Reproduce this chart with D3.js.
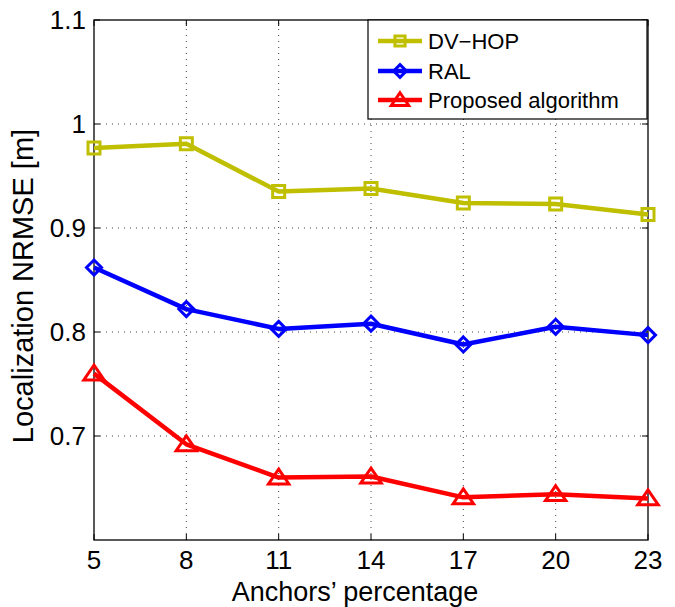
<!DOCTYPE html>
<html>
<head>
<meta charset="utf-8">
<script src="https://cdn.jsdelivr.net/npm/d3@7"></script>
<style>
  body { margin: 0; background: #fff; }
  svg { display: block; font-family: "Liberation Sans", Arial, Helvetica, sans-serif; }
</style>
</head>
<body>
<div id="chart"></div>
<script>
const anchors = [5, 8, 11, 14, 17, 20, 23];
const dvHop = [0.977, 0.981, 0.935, 0.938, 0.924, 0.923, 0.913];
const ral = [0.862, 0.822, 0.803, 0.808, 0.788, 0.805, 0.797];
const proposed = [0.760, 0.692, 0.660, 0.661, 0.641, 0.644, 0.640];

const xTicks = [5, 8, 11, 14, 17, 20, 23];
const yTicks = [0.7, 0.8, 0.9, 1, 1.1];

const seriesNames = ["DV\u2212HOP", "RAL", "Proposed algorithm"];

const width = 675, height = 607;
const margin = { left: 94, right: 27, top: 20, bottom: 67 };

const xScale = d3.scaleLinear().domain([5, 23]).range([margin.left, width - margin.right]);
const yScale = d3.scaleLinear().domain([0.6, 1.1]).range([height - margin.bottom, margin.top]);

const svg = d3.select("#chart").append("svg")
  .attr("width", width)
  .attr("height", height);

// marker shapes, unfilled like matlab
const square = s => `M${-s},${-s}H${s}V${s}H${-s}Z`;
const diamond = s => `M0,${-s}L${s},0L0,${s}L${-s},0Z`;
const triangle = s => `M0,${-s}L${s * 1.2},${s * 0.75}L${-s * 1.2},${s * 0.75}Z`;

const series = [
  { name: seriesNames[0], values: dvHop, color: "#bfbf00", shape: square, size: 6 },
  { name: seriesNames[1], values: ral, color: "#0000ff", shape: diamond, size: 7.5 },
  { name: seriesNames[2], values: proposed, color: "#ff0000", shape: triangle, size: 8.5 }
];

const x0 = xScale.range()[0], x1 = xScale.range()[1];
const y0 = yScale.range()[0], y1 = yScale.range()[1];

// dotted grid
const grid = svg.append("g")
  .attr("stroke", "#444")
  .attr("stroke-width", 1)
  .attr("stroke-dasharray", "1,5");

grid.selectAll(".gx").data(xTicks.slice(1, -1)).join("line")
  .attr("x1", d => xScale(d)).attr("x2", d => xScale(d))
  .attr("y1", y0).attr("y2", y1);

grid.selectAll(".gy").data(yTicks.slice(0, -1)).join("line")
  .attr("y1", d => yScale(d)).attr("y2", d => yScale(d))
  .attr("x1", x0).attr("x2", x1);

// ticks on all four sides, pointing in
const tickLen = 6;
const ticks = svg.append("g").attr("stroke", "#000").attr("stroke-width", 1);
xTicks.forEach(t => {
  ticks.append("line").attr("x1", xScale(t)).attr("x2", xScale(t)).attr("y1", y0).attr("y2", y0 - tickLen);
  ticks.append("line").attr("x1", xScale(t)).attr("x2", xScale(t)).attr("y1", y1).attr("y2", y1 + tickLen);
});
yTicks.forEach(t => {
  ticks.append("line").attr("y1", yScale(t)).attr("y2", yScale(t)).attr("x1", x0).attr("x2", x0 + tickLen);
  ticks.append("line").attr("y1", yScale(t)).attr("y2", yScale(t)).attr("x1", x1).attr("x2", x1 - tickLen);
});

// box
svg.append("rect")
  .attr("x", x0).attr("y", y1)
  .attr("width", x1 - x0).attr("height", y0 - y1)
  .attr("fill", "none")
  .attr("stroke", "#000")
  .attr("stroke-width", 1.3);

// tick labels
svg.append("g").selectAll("text").data(xTicks).join("text")
  .attr("x", d => xScale(d))
  .attr("y", 569)
  .attr("text-anchor", "middle")
  .attr("font-size", 26)
  .text(d => d);

svg.append("g").selectAll("text").data(yTicks).join("text")
  .attr("x", 86)
  .attr("y", d => yScale(d))
  .attr("dy", "0.36em")
  .attr("text-anchor", "end")
  .attr("font-size", 26)
  .text(d => d3.format("~g")(d));

// axis titles
svg.append("text")
  .attr("x", 355)
  .attr("y", 601)
  .attr("text-anchor", "middle")
  .attr("font-size", 27)
  .text("Anchors\u2019 percentage");

svg.append("text")
  .attr("transform", `translate(33,${(y0 + y1) / 2 + 6}) rotate(-90)`)
  .attr("text-anchor", "middle")
  .attr("font-size", 29)
  .text("Localization NRMSE [m]");

// lines and markers
const line = d3.line()
  .x((d, i) => xScale(anchors[i]))
  .y(d => yScale(d));

series.forEach(s => {
  const g = svg.append("g");
  g.append("path")
    .attr("d", line(s.values))
    .attr("fill", "none")
    .attr("stroke", s.color)
    .attr("stroke-width", 4.5)
    .attr("stroke-linejoin", "round");
  g.selectAll("path.mk").data(s.values).join("path")
    .attr("class", "mk")
    .attr("transform", (d, i) => `translate(${xScale(anchors[i])},${yScale(d)})`)
    .attr("d", s.shape(s.size))
    .attr("fill", "none")
    .attr("stroke", s.color)
    .attr("stroke-width", 3);
});

// legend
const legend = svg.append("g");
legend.append("rect")
  .attr("x", 368).attr("y", 20)
  .attr("width", 279).attr("height", 99)
  .attr("fill", "#fff")
  .attr("stroke", "#000")
  .attr("stroke-width", 1.2);

const rowY = [41, 71, 100];
series.forEach((s, i) => {
  legend.append("line")
    .attr("x1", 378).attr("x2", 422)
    .attr("y1", rowY[i]).attr("y2", rowY[i])
    .attr("stroke", s.color)
    .attr("stroke-width", 4.5);
  legend.append("path")
    .attr("transform", `translate(400,${rowY[i]})`)
    .attr("d", s.shape(s.size * 0.85))
    .attr("fill", "none")
    .attr("stroke", s.color)
    .attr("stroke-width", 3);
  legend.append("text")
    .attr("x", 428)
    .attr("y", rowY[i])
    .attr("dy", "0.36em")
    .attr("font-size", 22)
    .text(s.name);
});
</script>
</body>
</html>
